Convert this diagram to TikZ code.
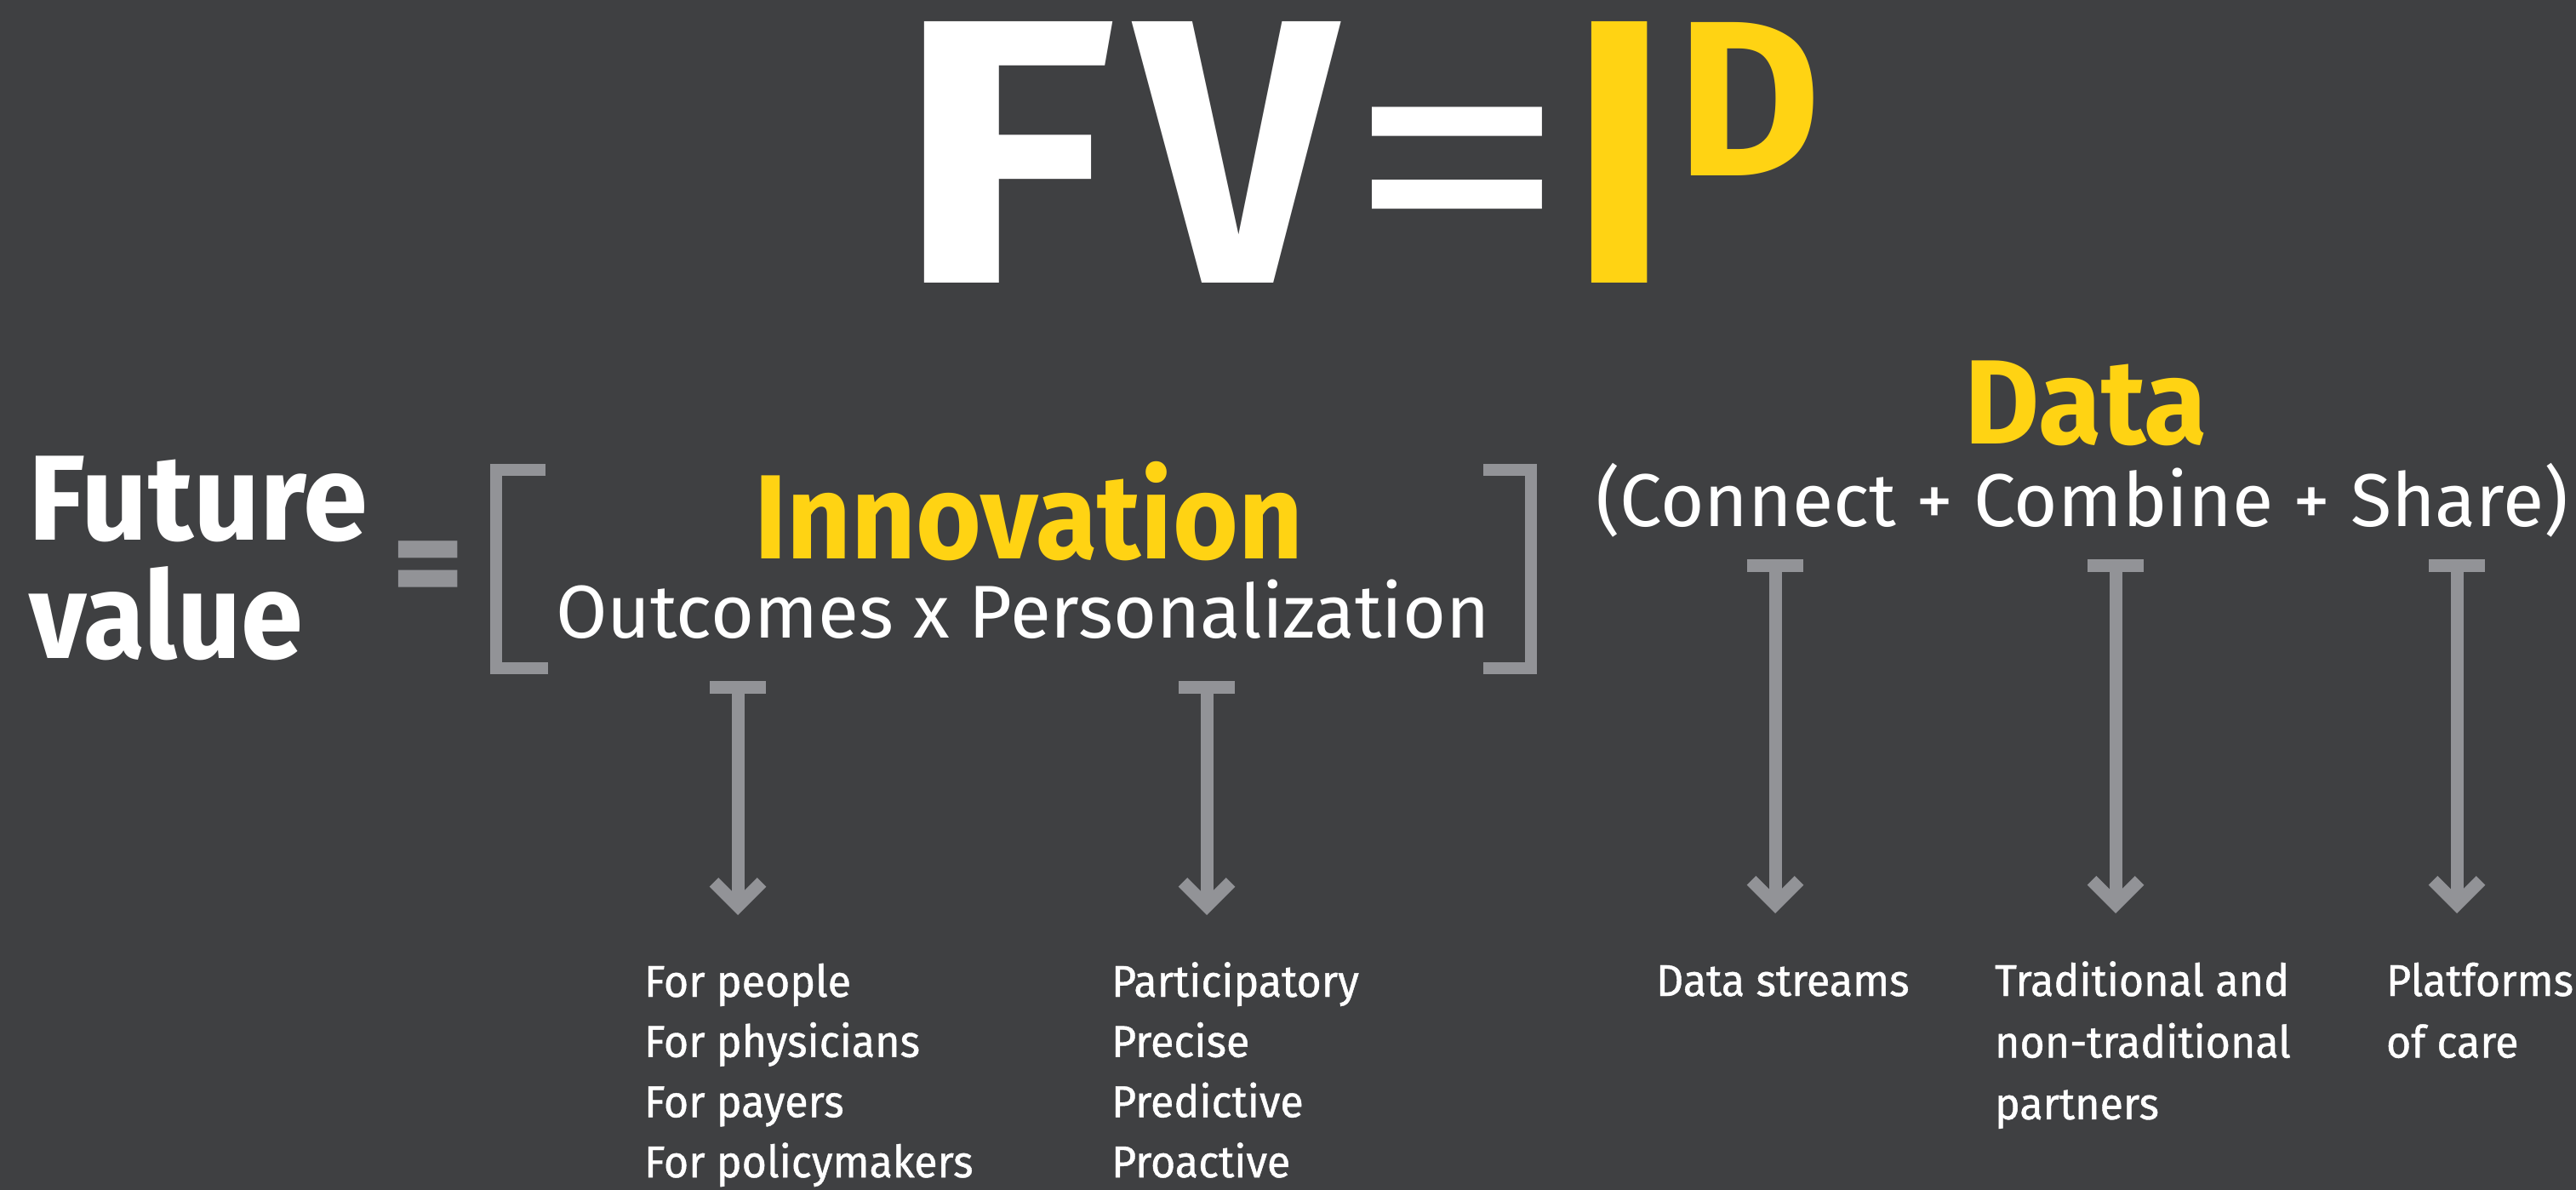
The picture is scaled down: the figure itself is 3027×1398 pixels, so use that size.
\documentclass[tikz,border=0pt]{standalone}
\usepackage{fontspec}
\usepackage{graphicx}
\setmainfont{Fira Sans}
\newfontfamily\labf{Fira Sans}[FakeStretch=0.96,FakeBold=0.8]
\usetikzlibrary{arrows.meta}
\definecolor{bg}{RGB}{63,64,66}
\definecolor{eyy}{RGB}{255,211,19}
\definecolor{gr}{RGB}{146,147,151}
\newlength\pxu
\setlength\pxu{0.01cm}
\newcommand\fitw[2]{\resizebox{#1\pxu}{\height}{#2}}
\newcommand\lines[2]{\vtop{\baselineskip=#1\relax\lineskiplimit=-100pt\relax\halign{##\hfil\cr#2\crcr}}}
\begin{document}
\begin{tikzpicture}[x=0.01cm,y=-0.01cm,
  glyph/.style={inner sep=0pt,outer sep=0pt,anchor=base,font=\bfseries\fontsize{126}{130}\selectfont},
  txt/.style={inner sep=0pt,outer sep=0pt,anchor=base west},
  lbl/.style={txt,text=white,font=\labf\fontsize{14.87}{20.86}\selectfont},
  brk/.style={draw=gr,line width=0.14cm,line join=miter},
  conn/.style={draw=gr,line width=0.15cm,arrows={Bar[width=0.66cm]-Straight Barb[sharp,length=0.28cm,width=0.56cm]}}
]
\useasboundingbox (0,0) rectangle (3027,1398);
\fill[bg] (0,0) rectangle (3027,1398);

% title FV = I^D
\node[glyph,text=white] (tF) at (1182,333) {\scalebox{1.21}[1]{F}};
\node[glyph,text=white] (tV) at (1453,333) {\scalebox{0.93}[1]{V}};
\node[glyph,text=white,font=\mdseries\fontsize{126}{130}\selectfont] (tEq) at (1712,333) {\scalebox{1.2}[1]{=}};
\node[glyph,text=eyy] (tI) at (1903,333) {\scalebox{0.9}[1]{I}};
\node[inner sep=0pt,outer sep=0pt,anchor=base,text=eyy,font=\bfseries\fontsize{73.9}{78}\selectfont] (tD) at (2055,207) {D};

% left side
\node[txt,text=white,font=\bfseries\fontsize{40.47}{48}\selectfont] (fv) at (34,635) {\lines{39.26pt}{\fitw{398}{Future}\cr\fitw{322}{value}}};
\node[inner sep=0pt,outer sep=0pt,anchor=base,text=gr,font=\bfseries\fontsize{46.8}{50}\selectfont] (eqs) at (503,718) {=};

\draw[brk] (641,552) -- (583,552) -- (583,785) -- (644,785);
\draw[brk] (1743,552) -- (1799,552) -- (1799,785) -- (1743,785);

\node[txt,text=eyy,font=\bfseries\fontsize{40.06}{48}\selectfont] (inn) at (886,657) {\fitw{645}{Innovation}};
\node[txt,text=white,font=\fontsize{25}{30}\selectfont] (oxp) at (653,750) {\fitw{1098}{Outcomes x Personalization}};

\node[txt,text=eyy,font=\bfseries\fontsize{40.06}{48}\selectfont] (dat) at (2308,522) {\fitw{286}{Data}};
\node[txt,text=white,font=\fontsize{25}{30}\selectfont] (ccs) at (1875,619) {\fitw{1143}{(Connect + Combine + Share)}};

% connectors
\coordinate (a1s) at (867,800);  \coordinate (a1e) at (867,1075);
\coordinate (a2s) at (1418,800); \coordinate (a2e) at (1418,1075);
\coordinate (d1s) at (2086,657); \coordinate (d1e) at (2086,1073);
\coordinate (d2s) at (2486,657); \coordinate (d2e) at (2486,1073);
\coordinate (d3s) at (2887,657); \coordinate (d3e) at (2887,1073);
\draw[conn] (a1s) -- (a1e);
\draw[conn] (a2s) -- (a2e);
\draw[conn] (d1s) -- (d1e);
\draw[conn] (d2s) -- (d2e);
\draw[conn] (d3s) -- (d3e);

% labels
\node[lbl] (l1) at (757,1171) {\lines{20.1pt}{For people\cr For physicians\cr For payers\cr For policymakers}};
\node[lbl] (l2) at (1306,1171) {\lines{20.1pt}{Participatory\cr Precise\cr Predictive\cr Proactive}};
\node[lbl] (l3) at (1946,1170) {Data streams};
\node[lbl] (l4) at (2344,1170) {\lines{20.6pt}{Traditional and\cr non-traditional\cr partners}};
\node[lbl] (l5) at (2804,1170) {\lines{20.6pt}{Platforms\cr of care}};
\end{tikzpicture}
\end{document}
